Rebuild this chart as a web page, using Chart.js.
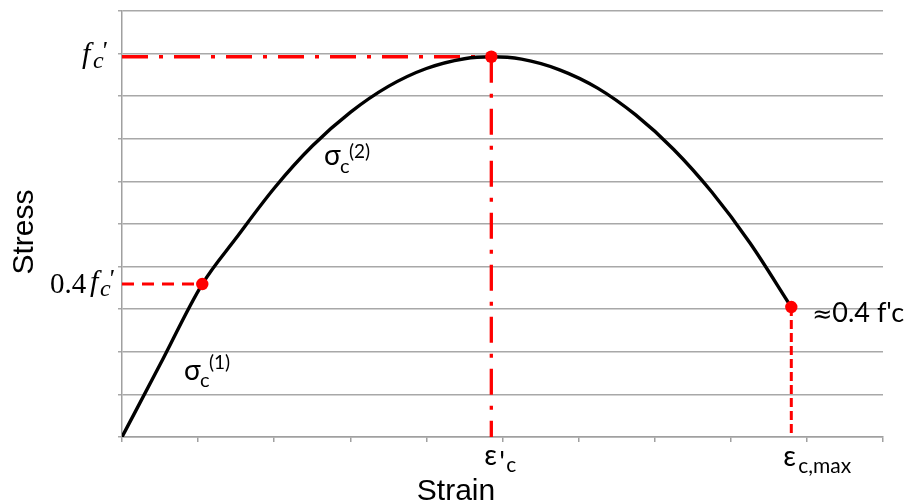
<!DOCTYPE html>
<html>
<head>
<meta charset="utf-8">
<script src="https://cdn.jsdelivr.net/npm/chart.js@4/dist/chart.umd.min.js"></script>
<style>
  html, body { margin: 0; padding: 0; background: #ffffff; }
  #wrap { width: 907px; height: 503px; position: relative; }
  canvas { display: block; }
</style>
</head>
<body>
<div id="wrap"><canvas id="c" width="907" height="503"></canvas></div>
<script>
// ---- data (axis units: 0..10 on both axes) ----
const strain = [0, 0.5, 1.055, 1.5, 2.0, 2.5, 3.0, 3.5, 4.0, 4.5, 4.853, 5.25, 5.75, 6.25, 6.75, 7.25, 7.75, 8.25, 8.795];
const stress = [0, 1.70, 3.59, 4.67, 5.84, 6.83, 7.62, 8.23, 8.65, 8.88, 8.926, 8.87, 8.62, 8.19, 7.56, 6.75, 5.75, 4.56, 3.05];
// marker points: 0.4f'c, peak (ε'c, f'c), end (εc,max)
const markerStrain = [1.055, 4.853, 8.795];
const markerStress = [3.59, 8.926, 3.05];
const axisMin = [0, 0];
const axisMax = [10, 10];

const curve = strain.map((x, i) => ({ x: x, y: stress[i] }));
const markers = markerStrain.map((x, i) => ({ x: x, y: markerStress[i] }));
const RED = '#ff0000';

const labelPlugin = {
  id: 'labels',
  afterDraw(chart) {
    const ctx = chart.ctx;
    const xs = chart.scales.x, ys = chart.scales.y;
    ctx.save();
    ctx.fillStyle = '#000000';
    ctx.textAlign = 'left';
    ctx.textBaseline = 'alphabetic';
    const put = (t, font, x, y) => { ctx.font = font; ctx.fillText(t, x, y); };

    // f'c label on the y axis
    const yPeak = ys.getPixelForValue(markerStress[1]);
    put('f', 'italic 30px "Liberation Serif"', 82, yPeak + 6);
    put('c', 'italic 24px "Liberation Serif"', 93, yPeak + 11);
    put('\'', 'italic 26px "Liberation Serif"', 101, yPeak + 2);

    // 0.4f'c label
    const y04 = ys.getPixelForValue(markerStress[0]);
    put('0.4', '29px "Liberation Serif"', 50, y04 + 9);
    put('f', 'italic 30px "Liberation Serif"', 90, y04 + 7);
    put('c', 'italic 24px "Liberation Serif"', 100, y04 + 12);
    put('\'', 'italic 26px "Liberation Serif"', 108, y04 + 3);

    // sigma labels
    put('\u03C3', '28px Lato', 184, 380);
    put('c', '20px Lato', 200, 387);
    put('(1)', '19px Lato', 209, 369);
    put('\u03C3', '28px Lato', 324, 165);
    put('c', '20px Lato', 340, 173);
    put('(2)', '19px Lato', 349, 158);

    // strain labels below the axis
    const xPeak = xs.getPixelForValue(markerStrain[1]);
    put('\u03B5', '28px Lato', xPeak - 7, 465);
    put('\'', '28px Lato', xPeak + 8, 472);
    put('c', '21px Lato', xPeak + 15, 472);
    const xEnd = xs.getPixelForValue(markerStrain[2]);
    put('\u03B5', '28px Lato', xEnd - 8, 466);
    put('c,max', '21px Lato', xEnd + 7, 473);

    // end label
    const yEnd = ys.getPixelForValue(markerStress[2]);
    put('\u2248', '24px "DejaVu Sans"', xEnd + 21, yEnd + 15);
    put('0.4 f\'c', '27px Lato', xEnd + 41, yEnd + 15);

    // axis titles
    ctx.font = '30px "Liberation Sans"';
    ctx.textAlign = 'center';
    ctx.fillText('Strain', 456, 500);
    ctx.save();
    ctx.translate(33, 232);
    ctx.rotate(-Math.PI / 2);
    ctx.fillText('Stress', 0, 0);
    ctx.restore();
    ctx.restore();
  }
};

new Chart(document.getElementById('c'), {
  type: 'line',
  data: {
    datasets: [
      {
        label: 'markers', data: markers, showLine: false,
        pointRadius: 6.2, pointBackgroundColor: RED, pointBorderWidth: 0, pointBorderColor: RED,
        order: 0
      },
      {
        label: 'stress-strain', data: curve, borderColor: '#000000', borderWidth: 3.4,
        pointRadius: 0, cubicInterpolationMode: 'monotone', fill: false, order: 1
      },
      {
        label: 'fc line', data: [{ x: axisMin[0], y: markerStress[1] }, { x: markerStrain[1], y: markerStress[1] }],
        borderColor: RED, borderWidth: 3.3, borderDash: [26, 11, 4, 11], pointRadius: 0, order: 2
      },
      {
        label: 'eps0 line', data: [{ x: markerStrain[1], y: markerStress[1] }, { x: markerStrain[1], y: axisMin[1] }],
        borderColor: RED, borderWidth: 3.3, borderDash: [26, 11, 4, 11], pointRadius: 0, order: 2
      },
      {
        label: '0.4 line', data: [{ x: axisMin[0], y: markerStress[0] }, { x: markerStrain[0], y: markerStress[0] }],
        borderColor: RED, borderWidth: 3, borderDash: [12, 8], pointRadius: 0, order: 2
      },
      {
        label: 'emax line', data: [{ x: markerStrain[2], y: markerStress[2] }, { x: markerStrain[2], y: axisMin[1] }],
        borderColor: RED, borderWidth: 3, borderDash: [9, 4], pointRadius: 0, order: 2
      }
    ]
  },
  options: {
    responsive: false,
    devicePixelRatio: 1,
    animation: false,
    layout: { padding: { top: 11, right: 24, left: 0, bottom: 0 } },
    plugins: { legend: { display: false }, tooltip: { enabled: false } },
    scales: {
      x: {
        type: 'linear', min: axisMin[0], max: axisMax[0],
        ticks: { display: false, stepSize: 1 },
        grid: { drawOnChartArea: false, drawTicks: true, tickLength: 5, color: '#a0a0a0', lineWidth: 1.5 },
        border: { display: true, color: '#a0a0a0', width: 1.5 },
        afterFit(s) { s.height = 66; }
      },
      y: {
        type: 'linear', min: axisMin[1], max: axisMax[1],
        ticks: { display: false, stepSize: 1 },
        grid: { drawTicks: true, tickLength: 4, color: '#a8a8a8', lineWidth: 1.5 },
        border: { display: true, color: '#a0a0a0', width: 1.5 },
        afterFit(s) { s.width = 122; }
      }
    }
  },
  plugins: [labelPlugin]
});
</script>
</body>
</html>
